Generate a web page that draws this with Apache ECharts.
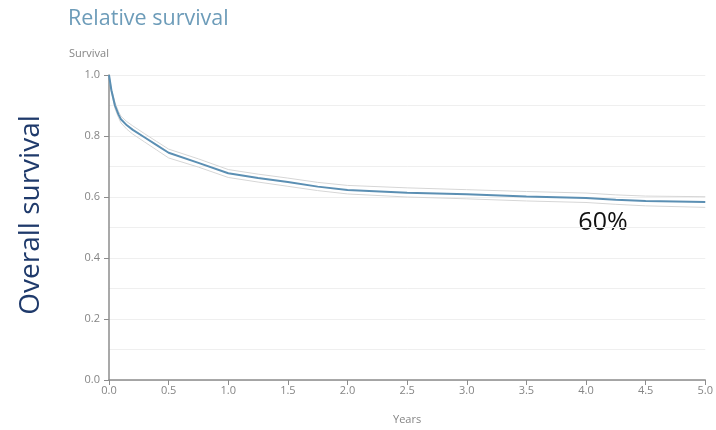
<!DOCTYPE html>
<html>
<head>
<meta charset="utf-8">
<script src="https://cdn.jsdelivr.net/npm/echarts@6/dist/echarts.min.js"></script>
<style>
  html, body { margin: 0; padding: 0; background: #fff; }
  #chart { width: 716px; height: 430px; }
</style>
</head>
<body>
<div id="chart"></div>
<script>
// Follow-up time in years
const years = [0, 0.02, 0.05, 0.08, 0.1, 0.15, 0.2, 0.3, 0.4, 0.5, 0.75, 1.0, 1.25, 1.5, 1.75, 2.0, 2.5, 3.0, 3.5, 4.0, 4.25, 4.5, 5.0];
// Relative survival estimate and its confidence limits
const survival = [1.0, 0.95, 0.90, 0.87, 0.855, 0.835, 0.82, 0.795, 0.77, 0.745, 0.712, 0.678, 0.662, 0.649, 0.634, 0.623, 0.614, 0.609, 0.602, 0.597, 0.591, 0.587, 0.584];
const upper = [1.0, 0.955, 0.91, 0.88, 0.865, 0.847, 0.833, 0.807, 0.782, 0.757, 0.725, 0.69, 0.675, 0.662, 0.648, 0.638, 0.63, 0.624, 0.618, 0.613, 0.607, 0.603, 0.601];
const lower = [1.0, 0.945, 0.89, 0.86, 0.843, 0.822, 0.806, 0.78, 0.754, 0.728, 0.698, 0.664, 0.649, 0.635, 0.621, 0.61, 0.6, 0.594, 0.587, 0.582, 0.576, 0.571, 0.566];

const pairs = arr => years.map((y, i) => [y, arr[i]]);

const chart = echarts.init(document.getElementById('chart'), null, { renderer: 'canvas' });
const tickFont = { color: '#858585', fontSize: 11, fontFamily: 'Open Sans' };

chart.setOption({
  animation: false,
  title: {
    text: 'Relative survival',
    left: 63, top: 3,
    textStyle: { color: '#6d9cb9', fontSize: 21.5, fontWeight: 'normal', fontFamily: 'Open Sans' }
  },
  grid: { left: 109, right: 7, top: 75, bottom: 47 },
  xAxis: {
    type: 'value', min: 0, max: 5, interval: 0.5,
    name: 'Years', nameLocation: 'middle', nameGap: 34,
    nameTextStyle: tickFont,
    axisLine: { lineStyle: { color: '#8c8c8c', width: 1.5 } },
    axisTick: { show: true, length: 5, lineStyle: { color: '#8c8c8c' } },
    axisLabel: Object.assign({ margin: 5, formatter: v => v.toFixed(1) }, tickFont),
    splitLine: { show: false }
  },
  yAxis: {
    type: 'value', min: 0, max: 1, interval: 0.2,
    name: 'Survival', nameGap: 16,
    nameTextStyle: Object.assign({ align: 'right' }, tickFont),
    axisLine: { show: true, lineStyle: { color: '#8c8c8c', width: 1.5 } },
    axisTick: { show: true, length: 5, lineStyle: { color: '#8c8c8c' } },
    axisLabel: Object.assign({ margin: 9, formatter: v => v.toFixed(1) }, tickFont),
    splitLine: { show: true, lineStyle: { color: '#efefef' } },
    minorTick: { show: false, splitNumber: 2 },
    minorSplitLine: { show: true, lineStyle: { color: '#efefef' } }
  },
  series: [
    { type: 'line', data: pairs(upper), symbol: 'none', lineStyle: { color: '#d6d6d6', width: 1 } },
    { type: 'line', data: pairs(lower), symbol: 'none', lineStyle: { color: '#d6d6d6', width: 1 } },
    { type: 'line', data: pairs(survival), symbol: 'none', lineStyle: { color: '#5b8fb3', width: 2 } }
  ],
  graphic: [
    {
      type: 'text', x: 31, y: 215, rotation: Math.PI / 2,
      style: { text: 'Overall survival', fill: '#1f3a6b', fontSize: 28, fontFamily: 'Open Sans', align: 'center', verticalAlign: 'middle' }
    },
    {
      type: 'text', x: 603, y: 223,
      style: { text: '60%', fill: '#111', fontSize: 25, fontFamily: 'Open Sans', align: 'center', verticalAlign: 'middle' }
    }
  ]
});
</script>
</body>
</html>
